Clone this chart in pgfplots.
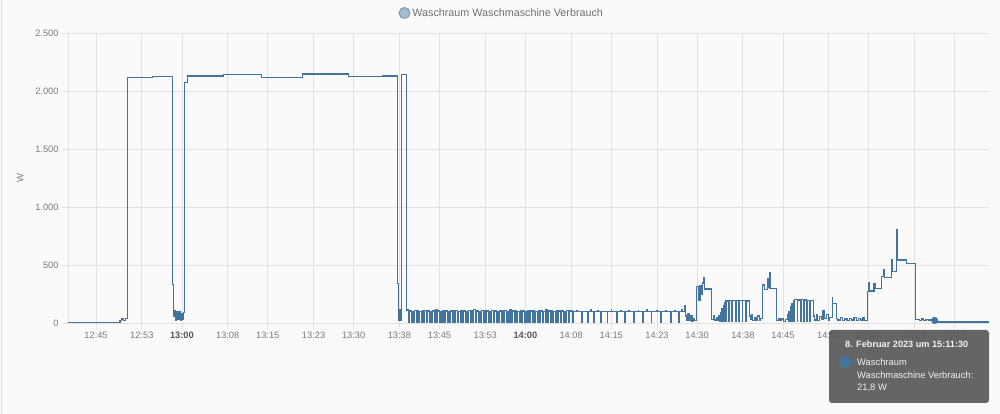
\documentclass[border=0pt]{standalone}
\usepackage{pgfplots}
\pgfplotsset{compat=1.18}
\usepackage{fontspec}
\setmainfont{Liberation Sans}
\definecolor{bg}{HTML}{FAFAFA}
\definecolor{gridc}{HTML}{E2E2E2}
\definecolor{linec}{HTML}{44739E}
\definecolor{tickc}{HTML}{7A7A7A}
\definecolor{tickb}{HTML}{555555}
\definecolor{legtext}{HTML}{707070}
\definecolor{legfill}{HTML}{A6BAD2}
\definecolor{legborder}{HTML}{7090B5}
\definecolor{tipbg}{HTML}{5A5A5A}
\definecolor{tiptext}{HTML}{F2F2F2}

\pgfplotstableread{
t v
40.1 3
49.2 20
49.5 35
49.8 22
50.1 40
50.5 2118
54.9 2125
58.4 330
58.55 60
58.7 110
58.9 20
59.1 100
59.3 30
59.5 95
59.7 20
59.9 85
60.1 30
60.25 90
60.4 2072
61.0 2129
67.3 2144
73.9 2116
81.1 2147
89.1 2124
95.0 2129
97.68 340
97.85 20
98.0 112
98.2 25
98.4 2144
99.25 112
99.60 8
99.75 104
100.05 8
100.20 102
100.50 8
100.65 105
100.95 8
101.10 103
101.40 8
101.55 101
101.85 8
102.00 104
102.30 8
102.45 106
102.75 8
102.90 103
103.20 8
103.35 101
103.65 8
103.80 104
104.10 8
104.25 118
104.55 8
104.70 103
105.00 8
105.15 102
105.45 8
105.60 105
105.90 8
106.05 103
106.35 8
106.50 101
106.80 8
106.95 104
107.25 8
107.40 103
107.70 8
107.85 106
108.15 8
108.30 102
108.60 8
108.75 104
109.05 8
109.20 103
109.50 8
109.65 101
109.95 8
110.10 105
110.40 8
110.55 103
110.85 8
111.00 116
111.30 8
111.45 104
111.75 8
111.90 102
112.20 8
112.35 105
112.65 8
112.80 103
113.10 8
113.25 104
113.55 8
113.70 102
114.00 8
114.15 105
114.45 8
114.60 103
114.90 8
115.05 101
115.35 8
115.50 104
115.80 8
115.95 103
116.25 8
116.40 105
116.70 8
116.85 102
117.15 8
117.30 115
117.60 8
117.75 103
118.05 8
118.20 104
118.50 8
118.65 102
118.95 8
119.10 105
119.40 8
119.55 103
119.85 8
120.00 101
120.30 8
120.45 104
120.75 8
120.90 103
121.20 8
121.35 105
121.65 8
121.80 102
122.10 8
122.25 104
122.55 8
122.70 103
123.00 8
123.15 101
123.45 8
123.60 119
123.90 8
124.05 104
124.35 8
124.50 103
124.80 8
124.95 102
125.25 8
125.40 105
125.70 8
125.85 103
126.15 8
126.30 104
126.60 8
126.75 102
127.05 8
127.20 105
127.50 8
127.65 103
128.30 5
128.40 98
129.0 110
129.1 98
129.90 5
130.00 97
130.90 5
131.00 99
131.4 112
131.5 97
132.00 5
132.10 98
132.6 110
132.7 97
133.20 5
133.30 99
134.30 5
134.40 97
135.0 112
135.1 98
135.90 5
136.00 99
136.6 110
136.7 97
137.30 5
137.40 98
138.1 111
138.2 97
138.90 5
139.00 99
139.7 110
139.8 98
140.50 5
140.60 97
141.2 112
141.3 98
142.00 5
142.10 99
142.9 110
143.0 97
143.70 5
143.80 98
144.5 111
144.6 97
145.40 5
145.50 99
146.1 110
146.2 98
146.80 5
146.90 97
147.3 112
147.4 100
147.8 150
148.0 60
148.2 20
148.4 80
148.6 25
148.9 60
149.1 15
149.4 40
149.6 20
149.9 313
150.2 198
150.5 320
150.8 250
151.0 344
151.2 394
151.35 293
152.5 30
152.8 60
153.1 25
153.4 50
153.6 20
153.8 60
153.95 10
154.05 90
154.2 10
154.3 120
154.45 10
154.55 150
154.7 10
154.8 175
154.95 10
155.05 190
155.5 10
155.6 195
156.1 10
156.2 192
156.7 10
156.8 195
157.3 10
157.4 193
157.9 10
158.0 195
158.5 10
158.6 190
159.1 60
159.3 30
159.5 70
159.7 20
160.0 50
160.3 25
160.6 60
160.9 20
161.1 40
161.4 327
161.8 290
162.3 385
162.45 310
162.6 437
162.75 300
163.9 20
164.2 40
164.5 20
164.8 35
165.1 15
165.4 30
165.8 70
165.95 10
166.05 100
166.2 10
166.3 140
166.45 10
166.55 170
166.7 10
166.8 190
166.95 10
167.05 200
167.5 10
167.6 198
168.05 10
168.15 200
168.6 10
168.7 198
169.15 10
169.25 196
169.7 10
169.8 195
170.3 60
170.5 25
170.8 70
171.1 20
171.4 55
171.7 30
172.0 106
172.3 40
172.6 70
172.9 25
173.2 45
173.6 218
173.7 170
174.3 40
174.6 25
175.0 45
175.4 20
175.8 35
176.2 22
176.6 40
177.0 25
177.4 45
177.8 20
178.2 40
178.6 25
179.0 50
179.3 22
179.74 270
179.95 344
180.05 275
180.9 340
181.1 300
182.19 400
182.55 463
182.7 394
184.0 543
184.2 442
184.85 802
184.95 543
186.55 514
188.2 28
188.8 20
189.2 35
189.6 22
190.0 30
190.5 25
191.0 28
191.5 21.8
192.0 8
201.0 8
}\datatable

\begin{document}
\begin{tikzpicture}
\fill[bg] (0,0) rectangle (1000bp,414bp);
\draw[gridc, line width=0.8bp] (1.5bp,0) -- (1.5bp,414bp);
\begin{axis}[
  at={(68bp,91bp)}, anchor=south west,
  scale only axis, width=921bp, height=290bp,
  xmin=40.1, xmax=201, ymin=0, ymax=2500,
  axis lines*=left,
  axis line style={gridc, line width=0.8bp},
  xtick={45,53,60,68,75,83,90,98,105,113,120,128,135,143,150,158,165,173,180,188,195},
  xticklabels={12:45,12:53,{\color{tickb}\textbf{13:00}},13:08,13:15,13:23,13:30,13:38,13:45,13:53,{\color{tickb}\textbf{14:00}},14:08,14:15,14:23,14:30,14:38,14:45,14:53,15:00,15:08,15:15},
  ytick={0,500,1000,1500,2000,2500},
  scaled y ticks=false,
  yticklabel style={/pgf/number format/.cd,1000 sep={.}},
  /pgf/number format/assume math mode=true,
  grid=major, grid style={gridc, line width=0.8bp},
  tick style={gridc, line width=0.8bp},
  tick align=outside, major tick length=6bp,
  ticklabel style={font=\fontsize{9.3}{11}\selectfont, text=tickc},
  ylabel={W},
  ylabel style={at={(axis description cs:-0.052,0.5)}, anchor=center, font=\fontsize{9.5}{11}\selectfont, text=tickc},
  legend style={at={(axis description cs:0.471,1.069)}, anchor=center, draw=none, fill=none,
    font=\fontsize{10.8}{12}\selectfont, text=legtext, inner sep=0pt},
  legend image code/.code={\filldraw[draw=legborder, fill=legfill, line width=0.8bp] (0bp,0bp) circle (5.5bp);},
]
\addplot[const plot, color=linec, line width=1.2bp] table[x=t, y=v] {\datatable};
\addlegendentry{Waschraum Waschmaschine Verbrauch}
\addplot[only marks, mark=*, mark size=3.3bp, mark options={fill=linec, draw=linec}, forget plot] coordinates {(191.5,21.8)};
\end{axis}
\fill[tipbg, opacity=0.93, rounded corners=3bp] (829bp,11bp) rectangle (989bp,84bp);
\node[anchor=west, inner sep=0pt, text=tiptext, font=\fontsize{9.2}{11}\selectfont\bfseries] at (845bp,70bp) {8. Februar 2023 um 15:11:30};
\fill[linec] (845bp,52bp) circle (6bp);
\node[anchor=west, inner sep=0pt, text=tiptext, font=\fontsize{9.4}{11}\selectfont] at (857bp,52bp) {Waschraum};
\node[anchor=west, inner sep=0pt, text=tiptext, font=\fontsize{9.4}{11}\selectfont] at (857bp,39bp) {Waschmaschine Verbrauch:};
\node[anchor=west, inner sep=0pt, text=tiptext, font=\fontsize{9.4}{11}\selectfont] at (857bp,26bp) {21,8 W};
\pgfresetboundingbox
\useasboundingbox (0,0) rectangle (1000bp,414bp);
\end{tikzpicture}
\end{document}
